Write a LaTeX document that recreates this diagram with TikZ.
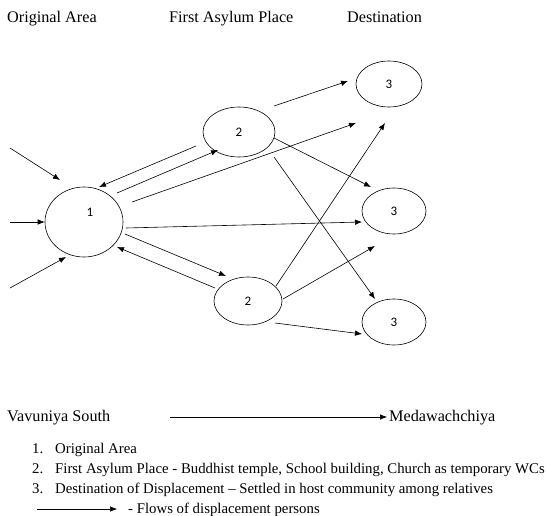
\documentclass[tikz,border=0pt]{standalone}
\usepackage{fontspec}
\setmainfont{Liberation Serif}
\newfontfamily\numfont{Carlito}
\usetikzlibrary{shapes.geometric,arrows.meta}
\begin{document}
\begin{tikzpicture}[x=1pt,y=-1pt,
  arr/.style={draw, line width=0.6pt, -{Latex[length=7pt,width=5.5pt]}},
  place/.style={draw, ellipse, line width=0.6pt, inner sep=0pt, font=\numfont\fontsize{13}{13}\selectfont},
  num/.style={inner sep=0pt, font=\numfont\fontsize{13}{13}\selectfont},
  head/.style={anchor=base west, inner sep=0pt, font=\fontsize{16.2}{19}\selectfont},
  leg/.style={anchor=base west, inner sep=0pt, font=\fontsize{14.8}{17}\selectfont}]
\useasboundingbox (0,0) rectangle (546,516);
% headers
\node[head] (h1) at (7,23) {Original Area};
\node[head] (h2) at (169,23) {First Asylum Place};
\node[head] (h3) at (347,23) {Destination};
% places
\node[place, minimum width=78pt, minimum height=70pt] (n1) at (84,222) {};
\node[num] (l1) at (90,212) {1};
\node[place, minimum width=72pt, minimum height=50pt] (t2) at (239,132) {2};
\node[place, minimum width=68pt, minimum height=48pt] (b2) at (248,301) {2};
\node[place, minimum width=66pt, minimum height=46pt] (d1) at (389,84) {3};
\node[place, minimum width=64pt, minimum height=46pt] (d2) at (394,211) {3};
\node[place, minimum width=64pt, minimum height=46pt] (d3) at (394,322) {3};
% incoming flows
\coordinate (s1) at (10,148);
\coordinate (s2) at (10,222);
\coordinate (s3) at (10,288);
\draw[arr] (s1) -- ([shift={(-24,-42)}]n1.center);
\draw[arr] (s2) -- (n1.west);
\draw[arr] (s3) -- ([shift={(-18,35)}]n1.center);
% 1 <-> first asylum
\draw[arr] ([shift={(-43,14)}]t2.center) -- ([shift={(15,-35)}]n1.center);
\draw[arr] ([shift={(33,-29)}]n1.center) -- ([shift={(-21,18)}]t2.center);
\draw[arr] ([shift={(48,-20)}]n1.center) -- ([shift={(-33,39)}]d1.center);
\draw[arr] ([shift={(42,6)}]n1.center) -- ([shift={(-32,11)}]d2.center);
\draw[arr] ([shift={(41,12)}]n1.center) -- ([shift={(-22,-25)}]b2.center);
\draw[arr] ([shift={(-33,-13)}]b2.center) -- ([shift={(33,25)}]n1.center);
% top asylum -> destinations
\draw[arr] ([shift={(35,-26)}]t2.center) -- ([shift={(-41,-3)}]d1.center);
\draw[arr] ([shift={(35,6)}]t2.center) -- ([shift={(-23,-24)}]d2.center);
\draw[arr] ([shift={(35,25)}]t2.center) -- ([shift={(-19,-23)}]d3.center);
% bottom asylum -> destinations
\draw[arr] ([shift={(28,-15)}]b2.center) -- ([shift={(-4,39)}]d1.center);
\draw[arr] ([shift={(35,-2)}]b2.center) -- ([shift={(-19,35)}]d2.center);
\draw[arr] ([shift={(27,22)}]b2.center) -- ([shift={(-32,12)}]d3.center);
% route
\node[head] (vs) at (7,421) {Vavuniya South};
\node[head] (md) at (389,421) {Medawachchiya};
\coordinate (ra) at (170,417);
\coordinate (rb) at (387,417);
\draw[arr] (ra) -- (rb);
% legend
\node[leg] (k1) at (32,453) {1.};
\node[leg] (t1) at (55,453) {Original Area};
\node[leg] (k2) at (32,473) {2.};
\node[leg] (t2l) at (55,473) {First Asylum Place - Buddhist temple, School building, Church as temporary WCs};
\node[leg] (k3) at (32,493) {3.};
\node[leg] (t3) at (55,493) {Destination of Displacement -- Settled in host community among relatives};
\node[leg] (fl) at (128,513) {- Flows of displacement persons};
\coordinate (fa) at (37,509);
\coordinate (fb) at (117,509);
\draw[arr] (fa) -- (fb);
\end{tikzpicture}
\end{document}
